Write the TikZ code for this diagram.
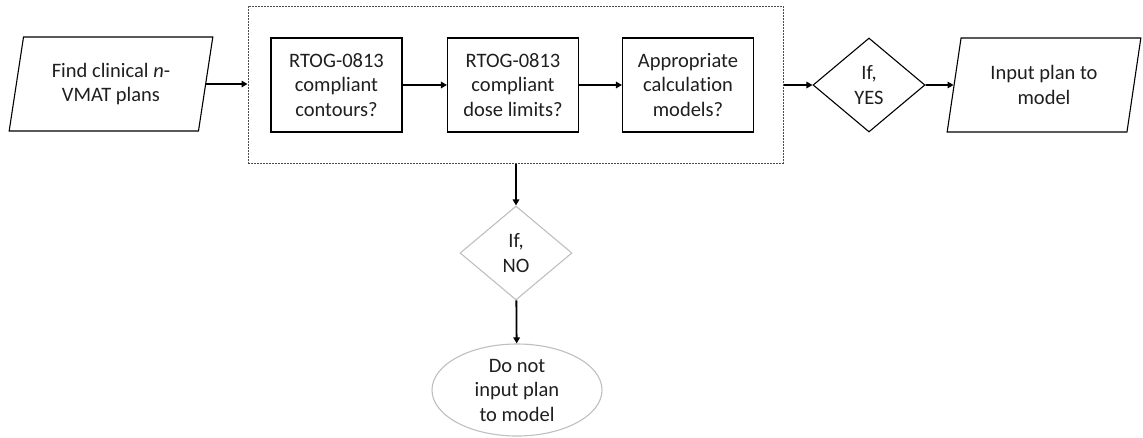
\documentclass[tikz,border=0pt]{standalone}
\usepackage{fontspec}
\setmainfont{Carlito}[Ligatures=NoCommon]
\usetikzlibrary{shapes.geometric,arrows.meta}
\definecolor{txt}{HTML}{1F1F1F}
\definecolor{lgray}{HTML}{BFBFBF}
\tikzset{
  lbl/.style={font=\fontsize{20.5}{24.5}\selectfont, text=txt, align=center},
  para/.style={lbl, trapezium, trapezium left angle=77, trapezium right angle=103,
    trapezium stretches=true, draw=black, line width=1.1pt, minimum height=94pt, inner sep=0pt},
  procbox/.style={lbl, rectangle, draw=black, line width=1.1pt, minimum width=131pt,
    minimum height=94pt, inner sep=2pt},
  decide/.style={lbl, diamond, line width=1.1pt, minimum width=112pt, minimum height=94pt, inner sep=0pt},
  endbox/.style={lbl, ellipse, draw=lgray, line width=1.1pt, minimum width=170pt,
    minimum height=92pt, inner sep=-10pt},
  groupbox/.style={rectangle, draw=black!70, line width=1pt, dash pattern=on 2pt off 1pt,
    minimum width=535pt, minimum height=157pt, inner sep=0pt},
  conn/.style={-{Triangle[length=6pt,width=6.5pt]}, line width=1.8pt, draw=black}
}
\begin{document}
\begin{tikzpicture}[x=1pt,y=-1pt]
\useasboundingbox (0,0) rectangle (1143,437);
\node[groupbox] (grp) at (515.5,84.5) {};
\node[para, minimum width=204pt] (find) at (111,84) {Find clinical \textit{n}-\\VMAT plans};
\node[procbox] (c1) at (336.5,85) {RTOG-0813\\compliant\\contours?};
\node[procbox] (c2) at (513,85) {RTOG-0813\\compliant\\dose limits?};
\node[procbox] (c3) at (688,85) {Appropriate\\calculation\\models?};
\node[decide, draw=black] (yes) at (869,85) {If,\\YES};
\node[para, minimum width=194pt] (inp) at (1044,85) {Input plan to\\model};
\node[decide, draw=lgray] (no) at (516,253) {If,\\NO};
\node[endbox] (dont) at (517,390) {Do not\\input plan\\to model};
\draw[conn] (find.east) -- (find.east -| grp.west);
\draw[conn] (c1) -- (c2);
\draw[conn] (c2) -- (c3);
\draw[conn] (yes.west -| grp.east) -- (yes.west);
\draw[conn] (yes.east) -- (inp.west);
\draw[conn] (no.north |- grp.south) -- (no.north);
\draw[conn] (no) -- (dont);
\end{tikzpicture}
\end{document}
